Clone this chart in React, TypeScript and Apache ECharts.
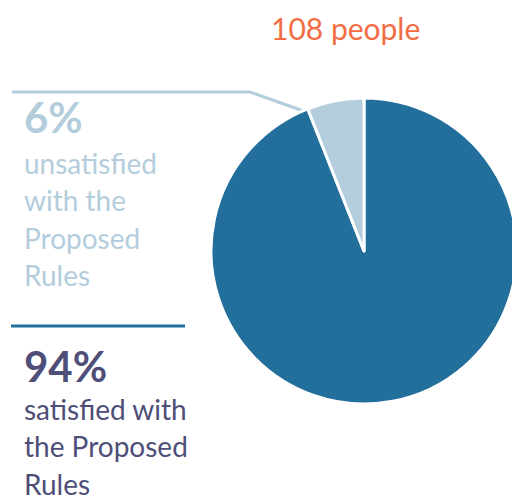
import React, { useEffect, useRef } from "react";
import * as echarts from "echarts";

const categories = ["satisfied with the Proposed Rules", "unsatisfied with the Proposed Rules"];
const values = [94, 6];
const colors = ["#236f9b", "#b3cddc"];
const totalLabel = "108 people";
const pctLabels = ["94%", "6%"];
const descLabels = ["satisfied with\nthe Proposed\nRules", "unsatisfied\nwith the\nProposed\nRules"];

export default function App() {
  const ref = useRef<HTMLDivElement>(null);
  useEffect(() => {
    const chart = echarts.init(ref.current!, null, { renderer: "svg" });
    const font = "Lato, 'Open Sans', sans-serif";
    const lineStep = 37.5;
    const lh = 26;
    const descLines = (text: string, top: number, color: string) =>
      text.split("\n").map((t, i) => ({
        type: "text",
        left: 24,
        top: top + (lineStep - lh) / 2 + i * lineStep,
        style: { text: t, fill: color, font: `28px ${font}`, lineHeight: lh },
      }));
    chart.setOption({
      animation: false,
      backgroundColor: "#ffffff",
      series: [
        {
          type: "pie",
          center: [364, 251],
          radius: [0, 153],
          startAngle: 90,
          clockwise: true,
          label: { show: false },
          labelLine: { show: false },
          silent: true,
          itemStyle: { borderColor: "#ffffff", borderWidth: 3 },
          data: categories.map((c, i) => ({ name: c, value: values[i], itemStyle: { color: colors[i] } })),
        },
      ],
      graphic: [
        {
          type: "text",
          left: 271,
          top: 13,
          style: { text: totalLabel, fill: "#f26d43", font: `30px ${font}` },
        },
        {
          type: "polyline",
          shape: { points: [[12, 92], [250, 92], [309, 113]] },
          style: { stroke: "#b3cddc", lineWidth: 3, fill: null },
        },
        {
          type: "text",
          left: 24,
          top: 96,
          style: { text: pctLabels[1], fill: "#b3cddc", font: `bold 42px ${font}` },
        },
        ...descLines(descLabels[1], 143, "#b3cddc"),
        {
          type: "line",
          shape: { x1: 11, y1: 326, x2: 185, y2: 326 },
          style: { stroke: "#236f9b", lineWidth: 3 },
        },
        {
          type: "text",
          left: 24,
          top: 345,
          style: { text: pctLabels[0], fill: "#4e4e78", font: `bold 42px ${font}` },
        },
        ...descLines(descLabels[0], 389, "#4e4e78"),
      ],
    });
    return () => chart.dispose();
  }, []);
  return <div ref={ref} style={{ width: 512, height: 496, position: "absolute", left: 0, top: 0 }} />;
}
